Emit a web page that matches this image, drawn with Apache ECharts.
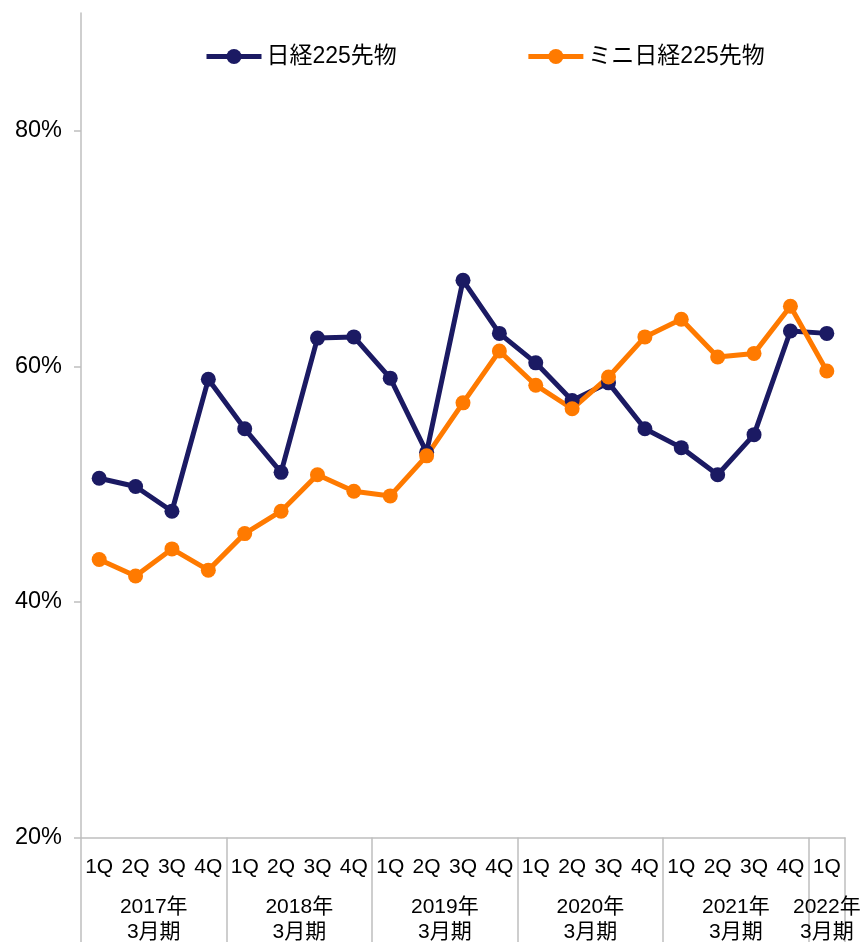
<!DOCTYPE html>
<html>
<head>
<meta charset="utf-8">
<script src="https://cdn.jsdelivr.net/npm/echarts@6/dist/echarts.min.js"></script>
<style>
html,body{margin:0;padding:0;background:#fff;}
#chart{width:862px;height:942px;}
</style>
</head>
<body>
<div id="chart"></div>
<script>
var quarters = ['1Q','2Q','3Q','4Q','1Q','2Q','3Q','4Q','1Q','2Q','3Q','4Q','1Q','2Q','3Q','4Q','1Q','2Q','3Q','4Q','1Q'];
var fiscalGroups = ['2017年\n3月期','2018年\n3月期','2019年\n3月期','2020年\n3月期','2021年\n3月期','2022年\n3月期'];
var groupSizes = [4,4,4,4,4,1];
var seriesNames = ['日経225先物','ミニ日経225先物'];
var nikkei225 = [50.5,49.8,47.7,58.9,54.7,51.0,62.4,62.5,59.0,52.7,67.3,62.8,60.3,57.1,58.6,54.7,53.1,50.8,54.2,63.0,62.8];
var mini225 = [43.6,42.2,44.5,42.7,45.8,47.7,50.8,49.4,49.0,52.4,56.9,61.3,58.4,56.4,59.1,62.5,64.0,60.8,61.1,65.1,59.6];
var yTicks = [20,40,60,80];
var yMin = 20, yMax = 90;

var FONT = "'Liberation Sans', Arial, 'Noto Sans CJK JP', sans-serif";
var AXIS_GRAY = '#bfbfbf';

// group boundaries and centres derived from group sizes
var boundaries = [0], centres = [], acc = 0;
groupSizes.forEach(function (s) { centres.push(acc + s / 2); acc += s; boundaries.push(acc); });
var centreLabel = {};
centres.forEach(function (c, i) { centreLabel[c] = fiscalGroups[i]; });

var chart = echarts.init(document.getElementById('chart'), null, {renderer: 'canvas'});
chart.setOption({
  animation: false,
  backgroundColor: '#fff',
  textStyle: {fontFamily: FONT},
  legend: {
    left: 204, top: 45, padding: 0,
    itemWidth: 55, itemHeight: 19, itemGap: 129,
    lineStyle: {width: 5},
    textStyle: {fontSize: 23, color: '#000', fontFamily: FONT},
    data: seriesNames
  },
  grid: {left: 81, right: 17, top: 13, bottom: 104.5, containLabel: false, outerBoundsMode: 'none'},
  xAxis: [{
    type: 'category',
    data: quarters,
    boundaryGap: true,
    axisLine: {lineStyle: {color: AXIS_GRAY, width: 1.5}},
    axisTick: {show: false},
    axisLabel: {interval: 0, color: '#000', fontSize: 21, margin: 19, fontFamily: FONT}
  }, {
    type: 'value',
    position: 'bottom',
    min: 0, max: quarters.length,
    axisLine: {show: false},
    splitLine: {show: false},
    axisTick: {show: true, customValues: boundaries, length: 120, lineStyle: {color: AXIS_GRAY, width: 1.5}},
    axisLabel: {
      customValues: centres,
      color: '#000', fontSize: 21, lineHeight: 25, margin: 57, fontFamily: FONT,
      formatter: function (v) { return centreLabel[v] || ''; }
    }
  }],
  yAxis: {
    type: 'value',
    min: yMin, max: yMax, interval: 20,
    axisLine: {show: true, lineStyle: {color: AXIS_GRAY, width: 1.5}},
    axisTick: {show: true, customValues: yTicks, length: 7, lineStyle: {color: AXIS_GRAY, width: 1.5}},
    splitLine: {show: false},
    axisLabel: {customValues: yTicks, color: '#000', fontSize: 23.5, margin: 19, fontFamily: FONT,
      formatter: function (v) { return v + '%'; }}
  },
  series: [{
    name: seriesNames[0], type: 'line', xAxisIndex: 0,
    data: nikkei225,
    symbol: 'circle', symbolSize: 15,
    lineStyle: {color: '#1b1a63', width: 5},
    itemStyle: {color: '#1b1a63'}
  }, {
    name: seriesNames[1], type: 'line', xAxisIndex: 0,
    data: mini225,
    symbol: 'circle', symbolSize: 15,
    lineStyle: {color: '#ff7a00', width: 5},
    itemStyle: {color: '#ff7a00'}
  }]
});
</script>
</body>
</html>
